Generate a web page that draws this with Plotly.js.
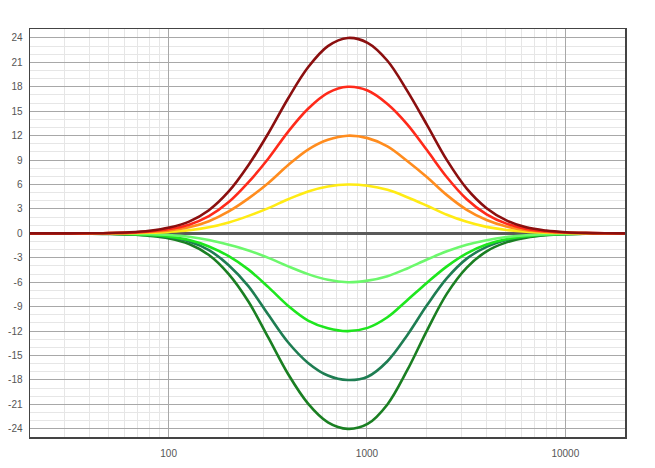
<!DOCTYPE html>
<html>
<head>
<meta charset="utf-8">
<script src="https://cdn.plot.ly/plotly-3.0.1.min.js"></script>
<style>
html,body{margin:0;padding:0;background:#fff;}
#chart{width:655px;height:468px;}
</style>
</head>
<body>
<div id="chart"></div>
<script>
// Frequencies (Hz), 1/10-decade points around the 800 Hz centre
var freq = [20, 25.3, 31.8, 40.1, 50.5, 63.6, 80, 100.7, 126.8, 159.6, 200.9, 252.9, 318.4, 400.9, 504.7, 635.4, 800, 1007.1, 1267.9, 1596.2, 2009.5, 2529.8, 3184.8, 4009.4, 5047.5, 6354.4, 8000, 10071.4, 12679.1, 15962.1, 20000];

// Gain curves (dB)
var boost24 = [0, 0.002, 0.006, 0.02, 0.055, 0.14, 0.33, 0.72, 1.45, 2.85, 5.15, 8.4, 12.3, 16.6, 20.4, 23.0, 24, 23.4, 21.2, 17.5, 13.3, 9.0, 5.5, 3.1, 1.6, 0.75, 0.35, 0.15, 0.06, 0.02, 0];
var boost18 = [0, 0.0015, 0.005, 0.015, 0.04, 0.1, 0.24, 0.53, 1.07, 2.12, 3.85, 6.3, 9.2, 12.5, 15.3, 17.25, 18, 17.55, 15.9, 13.4, 10.2, 6.9, 4.2, 2.35, 1.2, 0.56, 0.26, 0.11, 0.045, 0.015, 0];
var boost12 = [0, 0.001, 0.003, 0.01, 0.03, 0.07, 0.17, 0.37, 0.75, 1.5, 2.7, 4.3, 6.2, 8.4, 10.3, 11.5, 12, 11.7, 10.7, 8.9, 6.9, 4.7, 2.9, 1.65, 0.85, 0.4, 0.19, 0.08, 0.03, 0.01, 0];
var boost6  = [0, 0, 0.002, 0.005, 0.015, 0.035, 0.085, 0.19, 0.38, 0.75, 1.35, 2.15, 3.1, 4.2, 5.15, 5.75, 6, 5.85, 5.35, 4.45, 3.4, 2.3, 1.42, 0.8, 0.42, 0.2, 0.09, 0.04, 0.015, 0.005, 0];
var cut6  = [0, -0.001, -0.003, -0.008, -0.02, -0.045, -0.1, -0.2, -0.42, -0.82, -1.4, -2.1, -3.0, -4.05, -5.0, -5.7, -6, -5.8, -5.25, -4.3, -3.2, -2.2, -1.4, -0.83, -0.45, -0.22, -0.1, -0.04, -0.015, -0.005, 0];
var cut12 = [0, -0.002, -0.005, -0.014, -0.035, -0.085, -0.19, -0.4, -0.82, -1.6, -2.8, -4.45, -6.6, -8.9, -10.7, -11.65, -12, -11.6, -10.3, -8.2, -6.05, -4.05, -2.45, -1.37, -0.72, -0.34, -0.15, -0.06, -0.025, -0.01, 0];
var cut18 = [0, -0.002, -0.007, -0.02, -0.045, -0.1, -0.23, -0.48, -1.0, -2.05, -3.9, -6.5, -10.0, -13.4, -15.9, -17.45, -18, -17.6, -15.7, -12.5, -8.8, -5.5, -3.1, -1.65, -0.82, -0.39, -0.17, -0.07, -0.03, -0.01, 0];
var cut24 = [0, -0.003, -0.01, -0.025, -0.06, -0.14, -0.3, -0.62, -1.3, -2.65, -5.0, -8.4, -12.8, -17.3, -20.9, -23.2, -24, -23.4, -21.0, -16.8, -11.9, -7.4, -4.2, -2.2, -1.1, -0.52, -0.23, -0.1, -0.04, -0.015, 0];

// Tick labels
var yTickVals = [-24, -21, -18, -15, -12, -9, -6, -3, 0, 3, 6, 9, 12, 15, 18, 21, 24];
var yTickText = ["-24", "-21", "-18", "-15", "-12", "-9", "-6", "-3", "0", "3", "6", "9", "12", "15", "18", "21", "24"];
var xTickVals = [100, 1000, 10000];
var xTickText = ["100", "1000", "10000"];

var xMinor = [];
[10, 100, 1000, 10000].forEach(function (d) {
  for (var k = 2; k <= 9; k++) { if (d * k >= 20 && d * k <= 20000) xMinor.push(d * k); }
});
var yMinor = [];
for (var v = -25; v <= 25; v++) { if (v % 3 !== 0) yMinor.push(v); }

var series = [
  {y: cut24, c: "#1A7F22"},
  {y: cut18, c: "#1E7D52"},
  {y: cut12, c: "#1EE61E"},
  {y: cut6, c: "#6CF86C"},
  {y: boost6, c: "#FFEB14"},
  {y: boost12, c: "#FF8C1E"},
  {y: boost18, c: "#FF2A1A"},
  {y: boost24, c: "#8B0F0F"}
];

var traces = series.map(function (s) {
  return {
    x: freq, y: s.y, type: "scatter", mode: "lines",
    line: {color: s.c, width: 2.6, shape: "spline", smoothing: 1},
    hoverinfo: "skip", showlegend: false
  };
});

var layout = {
  width: 655, height: 468,
  margin: {l: 30, r: 30, t: 29, b: 31},
  paper_bgcolor: "#fff", plot_bgcolor: "#fff",
  font: {family: "Liberation Sans, Arial, sans-serif", size: 10, color: "#555"},
  xaxis: {
    type: "log",
    range: [Math.log10(20), Math.log10(20000)],
    tickmode: "array", tickvals: xTickVals, ticktext: xTickText,
    ticks: "", showgrid: true, gridcolor: "#a8a8a8", gridwidth: 1,
    minor: {tickmode: "array", tickvals: xMinor, showgrid: true, gridcolor: "#e6e6e6", gridwidth: 1, ticks: ""},
    showline: true, mirror: true, linecolor: "#444", linewidth: 1.5,
    zeroline: false, fixedrange: true, ticklabelstandoff: 6
  },
  yaxis: {
    range: [-25, 25.1],
    tickmode: "array", tickvals: yTickVals, ticktext: yTickText,
    ticks: "", showgrid: true, gridcolor: "#a8a8a8", gridwidth: 1,
    minor: {tickmode: "array", tickvals: yMinor, showgrid: true, gridcolor: "#e6e6e6", gridwidth: 1, ticks: ""},
    showline: true, mirror: true, linecolor: "#444", linewidth: 1.5,
    zeroline: true, zerolinecolor: "#5a5a5a", zerolinewidth: 3,
    fixedrange: true, ticklabelstandoff: 4
  }
};

Plotly.newPlot("chart", traces, layout, {staticPlot: true, displayModeBar: false});
</script>
</body>
</html>
